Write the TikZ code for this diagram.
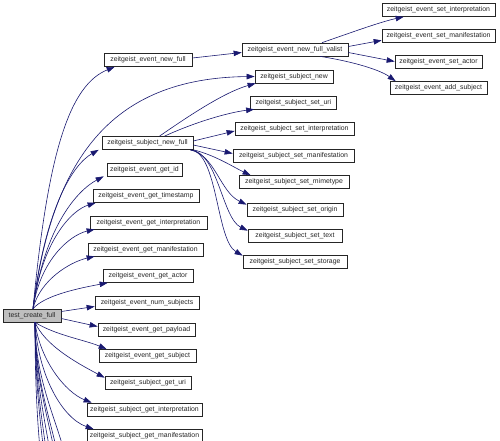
\documentclass[tikz,border=0pt]{standalone}
\usepackage{fontspec}
\setmainfont{Liberation Sans}
\usetikzlibrary{arrows.meta}
\definecolor{edgec}{HTML}{191970}
\begin{document}
\begin{tikzpicture}[x=1pt,y=-1pt,
 box/.style={draw=black!85, line width=0.7pt, fill=white, minimum height=13pt, inner sep=0pt, font=\fontsize{6.9}{8}\selectfont, text=black!85},
 root/.style={box, fill=black!25},
 edge/.style={draw=edgec, line width=0.6pt, -{Triangle[length=8pt,width=5.5pt]}}]
\useasboundingbox (0,0) rectangle (500,441);
\clip (0,0) rectangle (500,441);
% nodes
\node[root, minimum width=58pt] (tcf) at (32,315.5) {test\_create\_full};
\node[box, minimum width=88pt] (enf) at (148,60) {zeitgeist\_event\_new\_full};
\node[box, minimum width=106pt] (env) at (295,49.5) {zeitgeist\_event\_new\_full\_valist};
\node[box, minimum width=113pt] (esi) at (438.5,10) {zeitgeist\_event\_set\_interpretation};
\node[box, minimum width=113pt] (esm) at (438.5,35.5) {zeitgeist\_event\_set\_manifestation};
\node[box, minimum width=87pt] (esa) at (438.5,61.5) {zeitgeist\_event\_set\_actor};
\node[box, minimum width=97pt] (eas) at (438.5,88) {zeitgeist\_event\_add\_subject};
\node[box, minimum width=78pt] (sn) at (294,76.5) {zeitgeist\_subject\_new};
\node[box, minimum width=86pt] (ssu) at (293.5,102.5) {zeitgeist\_subject\_set\_uri};
\node[box, minimum width=91pt] (snf) at (147.5,143) {zeitgeist\_subject\_new\_full};
\node[box, minimum width=119pt] (ssi) at (294.5,129) {zeitgeist\_subject\_set\_interpretation};
\node[box, minimum width=121pt] (ssm) at (293.5,155.5) {zeitgeist\_subject\_set\_manifestation};
\node[box, minimum width=110pt] (ssmt) at (294,182) {zeitgeist\_subject\_set\_mimetype};
\node[box, minimum width=96pt] (sso) at (295,209.5) {zeitgeist\_subject\_set\_origin};
\node[box, minimum width=94pt] (sst) at (295,235.5) {zeitgeist\_subject\_set\_text};
\node[box, minimum width=104pt] (sss) at (295,261.5) {zeitgeist\_subject\_set\_storage};
\node[box, minimum width=75pt] (egi) at (144.5,169.5) {zeitgeist\_event\_get\_id};
\node[box, minimum width=106pt] (egt) at (146,196) {zeitgeist\_event\_get\_timestamp};
\node[box, minimum width=117pt] (egin) at (148.5,222.5) {zeitgeist\_event\_get\_interpretation};
\node[box, minimum width=115pt] (egm) at (145.5,249.5) {zeitgeist\_event\_get\_manifestation};
\node[box, minimum width=90pt] (ega) at (148,276) {zeitgeist\_event\_get\_actor};
\node[box, minimum width=104pt] (ens) at (147,302.5) {zeitgeist\_event\_num\_subjects};
\node[box, minimum width=97pt] (egp) at (146.5,329.5) {zeitgeist\_event\_get\_payload};
\node[box, minimum width=97pt] (egs) at (147.5,356) {zeitgeist\_event\_get\_subject};
\node[box, minimum width=86pt] (sgu) at (148,382.5) {zeitgeist\_subject\_get\_uri};
\node[box, minimum width=115pt] (sgi) at (144.5,409.5) {zeitgeist\_subject\_get\_interpretation};
\node[box, minimum width=115pt] (sgm) at (144.5,436) {zeitgeist\_subject\_get\_manifestation};
% off-picture ends
\coordinate (o1) at (42,470);
\coordinate (o2) at (46,470);
\coordinate (o3) at (49,470);
\coordinate (o4) at (53,470);
\coordinate (o5) at (58,470);
\coordinate (o6) at (61,470);
\coordinate (o7) at (69,470);
% edges from test_create_full upward
\draw[edge] ([xshift=1pt]tcf.north) .. controls (48,150) and (70,85) .. ([xshift=11pt]enf.south west);
\draw[edge] ([xshift=1pt]tcf.north) .. controls (52,160) and (110,78) .. (sn.west);
\draw[edge] ([xshift=1pt]tcf.north) .. controls (45,210) and (72,165) .. ([xshift=-3pt]snf.south west);
\draw[edge] ([xshift=1pt]tcf.north) .. controls (45,225) and (78,190) .. ([xshift=-3pt]egi.south west);
\draw[edge] ([xshift=1pt]tcf.north) .. controls (42,240) and (72,210) .. ([xshift=3pt]egt.south west);
\draw[edge] ([xshift=1pt]tcf.north) .. controls (40,260) and (70,235) .. ([xshift=5pt]egin.south west);
\draw[edge] ([xshift=1pt]tcf.north) .. controls (40,280) and (70,262) .. ([xshift=7pt]egm.south west);
\draw[edge] ([xshift=1pt]tcf.north) .. controls (45,295) and (80,288) .. ([xshift=5pt]ega.south west);
% sideways
\draw[edge] ([yshift=4pt]tcf.east) -- ([yshift=-4pt]ens.west);
\draw[edge] ([yshift=-3pt]tcf.east) -- ([yshift=3pt]egp.west);
% downward
\draw[edge] ([xshift=3pt]tcf.south) .. controls (55,335) and (85,340) .. ([xshift=8pt]egs.north west);
\draw[edge] ([xshift=3pt]tcf.south) .. controls (45,345) and (75,362) .. ([yshift=-2pt]sgu.north west);
\draw[edge] ([xshift=3pt]tcf.south) .. controls (40,360) and (65,392) .. ([xshift=5pt]sgi.north west);
\draw[edge] ([xshift=3pt]tcf.south) .. controls (38,375) and (62,418) .. ([xshift=7pt]sgm.north west);
\foreach \o/\x in {o1/37,o2/40,o3/42,o4/45,o5/49,o6/51,o7/57}
  \draw[edge] ([xshift=3pt]tcf.south) .. controls (35,380) and (\x,420) .. (\o);
% zeitgeist_event_new_full
\draw[edge] ([yshift=2pt]enf.east) -- ([yshift=-3pt]env.west);
% valist
\draw[edge] ([xshift=27pt]env.north) .. controls (350,33) and (380,22) .. ([xshift=22pt]esi.south west);
\draw[edge] ([yshift=3pt]env.east) -- ([yshift=2pt]esm.south west);
\draw[edge] ([yshift=-3pt]env.east) -- (esa.west);
\draw[edge] ([xshift=25pt]env.south) .. controls (355,62) and (380,70) .. ([xshift=6pt]eas.north west);
% subject_new_full
\draw[edge] ([xshift=12pt]snf.north) .. controls (190,115) and (225,92) .. ([xshift=1pt]sn.south west);
\draw[edge] ([xshift=17pt]snf.north) .. controls (200,120) and (232,112) .. ([xshift=4pt]ssu.south west);
\draw[edge] ([yshift=2pt]snf.east) -- ([yshift=-2pt]ssi.west);
\draw[edge] ([yshift=-2pt]snf.east) -- ([yshift=2pt]ssm.west);
\draw[edge] (snf.south east) .. controls (215,155) and (235,168) .. ([xshift=12pt]ssmt.north west);
\draw[edge] ([xshift=-3pt]snf.south east) .. controls (215,155) and (220,192) .. ([yshift=-2pt]sso.north west);
\draw[edge] ([xshift=-3pt]snf.south east) .. controls (218,152) and (222,218) .. ([yshift=-2pt]sst.north west);
\draw[edge] ([xshift=-3pt]snf.south east) .. controls (218,152) and (216,240) .. ([yshift=-1pt]sss.north west);
\end{tikzpicture}
\end{document}
